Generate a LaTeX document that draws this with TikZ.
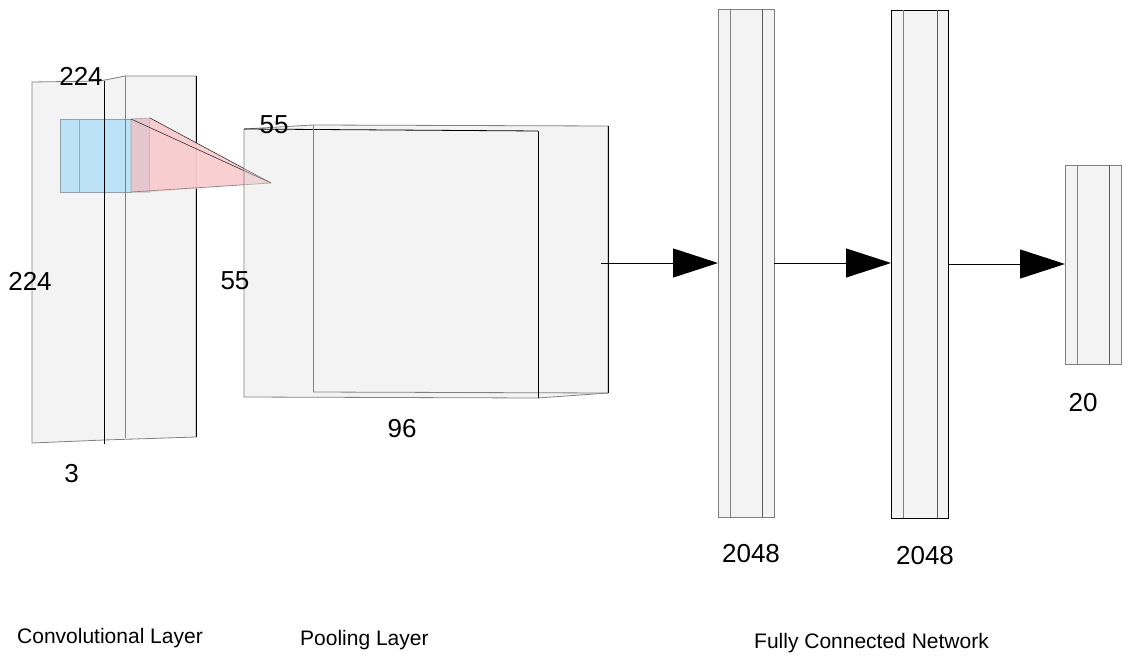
\documentclass[tikz,border=0pt]{standalone}
\usepackage{fontspec}
\setmainfont{Liberation Sans}
\usetikzlibrary{arrows.meta}
\definecolor{boxgray}{RGB}{243,243,243}
\definecolor{edgegray}{RGB}{128,128,128}
\definecolor{darkedge}{RGB}{90,90,90}
\definecolor{cblue}{RGB}{188,226,248}
\definecolor{cpink}{RGB}{249,204,207}
\definecolor{cmauve}{RGB}{229,197,206}
\tikzset{
  edge/.style={draw=edgegray, line width=0.8pt},
  fcbox/.style={draw=edgegray, line width=0.8pt, fill=boxgray, inner sep=0pt, outer sep=0pt},
  dimlabel/.style={font=\fontsize{26}{31}\selectfont, inner sep=0pt},
  caption/.style={font=\fontsize{21}{25}\selectfont, inner sep=0pt, anchor=base west},
  arr/.style={line width=1pt, -{Triangle[length=45pt,width=29pt]}}
}
\begin{document}
\begin{tikzpicture}[x=1pt,y=-1pt]
\useasboundingbox (0,0) rectangle (1147,666);
% convolutional block
\path[fill=boxgray, draw=edgegray, line width=0.8pt]
  (32,82) -- (100,81) -- (125,76) -- (196,76) -- (196,437) -- (104,440) -- (32,443) -- cycle;
\draw[black, line width=0.8pt] (196,76) -- (196,437);
% kernel (blue)
\path[fill=cblue, draw=edgegray!70!cblue, line width=0.8pt] (60,119) rectangle (131,192);
\draw[draw=edgegray!60!cblue, line width=0.8pt] (79,119) -- (79,192);
% projection (pink)
\path[fill=cmauve, draw=edgegray!60!cpink, line width=0.6pt] (131,119) -- (150,118) -- (150,192) -- (131,192) -- cycle;
\path[fill=cpink, fill opacity=0.95] (150,118) -- (271,183) -- (150,192) -- cycle;
\draw[black!80, line width=0.6pt] (131,119) -- (271,183);
\draw[black!80, line width=0.6pt] (150,118) -- (271,183);
\draw[edgegray, line width=0.6pt] (131,192) -- (271,183);
% lines of the conv block on top
\draw[black, line width=0.8pt] (104,81) -- (104,444);
\draw[edgegray, line width=0.8pt] (125,76) -- (125,438);
% pooling block
\path[fill=gray!25, fill opacity=0.38, draw=edgegray, line width=0.8pt]
  (244,129) -- (313,125) -- (608,126) -- (608,393) -- (538,398) -- (244,397) -- cycle;
\draw[black, line width=0.8pt] (244,129) -- (538,131);
\draw[edgegray, line width=0.8pt] (313,392) -- (608,393);
\draw[edgegray, line width=0.8pt] (313,125) -- (313,392);
\draw[black, line width=0.8pt] (538,131) -- (538,398);
\draw[black, line width=0.8pt] (608,126) -- (608,393);
\coordinate (poolout) at (601,263);
% fully connected blocks
\node[fcbox, minimum width=56pt, minimum height=508pt] (fc1) at (746,263) {};
\draw[edgegray, line width=0.8pt] ([xshift=12pt]fc1.north west) -- ([xshift=12pt]fc1.south west);
\draw[darkedge, line width=0.8pt] ([xshift=-12pt]fc1.north east) -- ([xshift=-12pt]fc1.south east);
\node[fcbox, draw=black, minimum width=57pt, minimum height=508pt] (fc2) at (919.5,264) {};
\draw[edgegray, line width=0.8pt] ([xshift=12pt]fc2.north west) -- ([xshift=12pt]fc2.south west);
\draw[darkedge, line width=0.8pt] ([xshift=-11pt]fc2.north east) -- ([xshift=-11pt]fc2.south east);
\node[fcbox, minimum width=56pt, minimum height=199pt] (fc3) at (1093,264.5) {};
\draw[edgegray, line width=0.8pt] ([xshift=12pt]fc3.north west) -- ([xshift=12pt]fc3.south west);
\draw[darkedge, line width=0.8pt] ([xshift=-12pt]fc3.north east) -- ([xshift=-12pt]fc3.south east);
% arrows
\draw[arr] (poolout) -- (fc1.west);
\draw[arr] (fc1.east) -- (fc1.east -| fc2.west);
\draw[arr] (fc2.east) -- (fc2.east -| fc3.west);
% dimension labels
\node[dimlabel] (d224a) at (81,76) {224};
\node[dimlabel] (d224b) at (30,281) {224};
\node[dimlabel] (d3) at (71.5,474) {3};
\node[dimlabel] (d55a) at (274,125) {55};
\node[dimlabel] (d55b) at (235,281) {55};
\node[dimlabel] (d96) at (402,429) {96};
\node[dimlabel] (d2048a) at (751,554) {2048};
\node[dimlabel] (d2048b) at (925,556) {2048};
\node[dimlabel] (d20) at (1083,403) {20};
% captions
\node[caption] (cconv) at (17,643) {Convolutional Layer};
\node[caption] (cpool) at (300,645) {Pooling Layer};
\node[caption] (cfc) at (754,648) {Fully Connected Network};
\end{tikzpicture}
\end{document}
